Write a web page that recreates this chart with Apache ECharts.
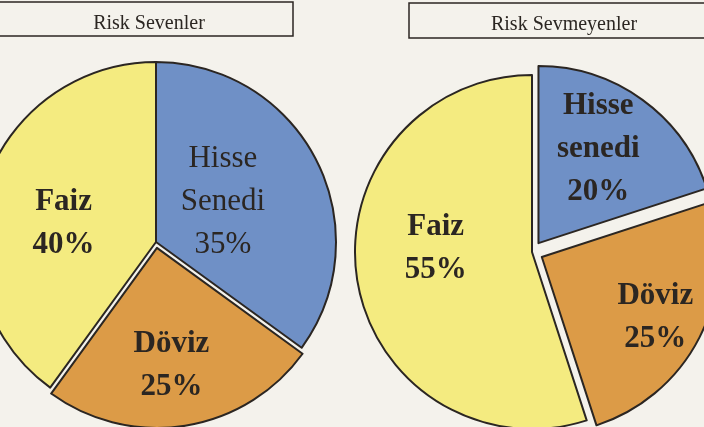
<!DOCTYPE html>
<html>
<head>
<meta charset="utf-8">
<script src="https://cdn.jsdelivr.net/npm/echarts@6/dist/echarts.min.js"></script>
<style>
  html, body { margin: 0; padding: 0; background: #f4f2ec; }
  #chart { width: 704px; height: 427px; }
</style>
</head>
<body>
<div id="chart"></div>
<script>
// data
const categories = ['Hisse Senedi', 'Döviz', 'Faiz']
const riskLovers = [35, 25, 40]
const riskAverse = [20, 25, 55]
const loverLabels = ['Hisse\nSenedi\n35%', 'Döviz\n25%', 'Faiz\n40%']
const averseLabels = ['Hisse\nsenedi\n20%', 'Döviz\n25%', 'Faiz\n55%']
const titles = ['Risk Sevenler', 'Risk Sevmeyenler']

const COLORS = ['#6f90c6', '#dc9b47', '#f4eb80']
const INK = '#2b2622'

const chart = echarts.init(document.getElementById('chart'))

const makeData = (values, labels, selected, weights) =>
  values.map((v, i) => ({
    value: v,
    name: categories[i],
    selected: selected[i],
    itemStyle: { color: COLORS[i] },
    select: { itemStyle: { color: COLORS[i], borderColor: INK, borderWidth: 2 } },
    label: { formatter: labels[i], fontWeight: weights[i] },
  }))

const pieBase = {
  type: 'pie',
  startAngle: 90,
  clockwise: true,
  selectedMode: 'multiple',
  silent: true,
  animation: false,
  itemStyle: { borderColor: INK, borderWidth: 2 },
  label: {
    show: true,
    position: 'inside',
    fontFamily: 'Liberation Serif',
    fontSize: 31,
    lineHeight: 43,
    color: INK,
  },
  labelLine: { show: false },
  emphasis: { disabled: true },
}

// label nudges (dx, dy) per slice
const leftNudge = [[-16, 2], [0, 26], [-4, 10]]
const rightNudge = [[6, -20], [32, 19], [-6, -18]]

const titleStyle = { fontFamily: 'Liberation Serif', fontSize: 20, fontWeight: 'normal', color: INK }

chart.setOption({
  backgroundColor: '#f4f2ec',
  title: [
    { text: titles[0], left: 144, top: 9, textAlign: 'center', textStyle: titleStyle },
    { text: titles[1], left: 559, top: 10, textAlign: 'center', textStyle: titleStyle },
  ],
  graphic: [
    { type: 'rect', shape: { x: -10, y: 2, width: 303, height: 34 },
      style: { fill: 'none', stroke: INK, lineWidth: 1.5 }, silent: true },
    { type: 'rect', shape: { x: 409, y: 3, width: 310, height: 35 },
      style: { fill: 'none', stroke: INK, lineWidth: 1.5 }, silent: true },
  ],
  series: [
    {
      ...pieBase,
      center: [156, 242],
      radius: [0, 180],
      selectedOffset: 6,
      labelLayout: (p) => ({ dx: leftNudge[p.dataIndex][0], dy: leftNudge[p.dataIndex][1] }),
      data: makeData(riskLovers, loverLabels, [false, true, false], ['normal', 'bold', 'bold']),
    },
    {
      ...pieBase,
      center: [532, 252],
      radius: [0, 177],
      selectedOffset: 11,
      labelLayout: (p) => ({ dx: rightNudge[p.dataIndex][0], dy: rightNudge[p.dataIndex][1] }),
      data: makeData(riskAverse, averseLabels, [true, true, false], ['bold', 'bold', 'bold']),
    },
  ],
})
</script>
</body>
</html>
